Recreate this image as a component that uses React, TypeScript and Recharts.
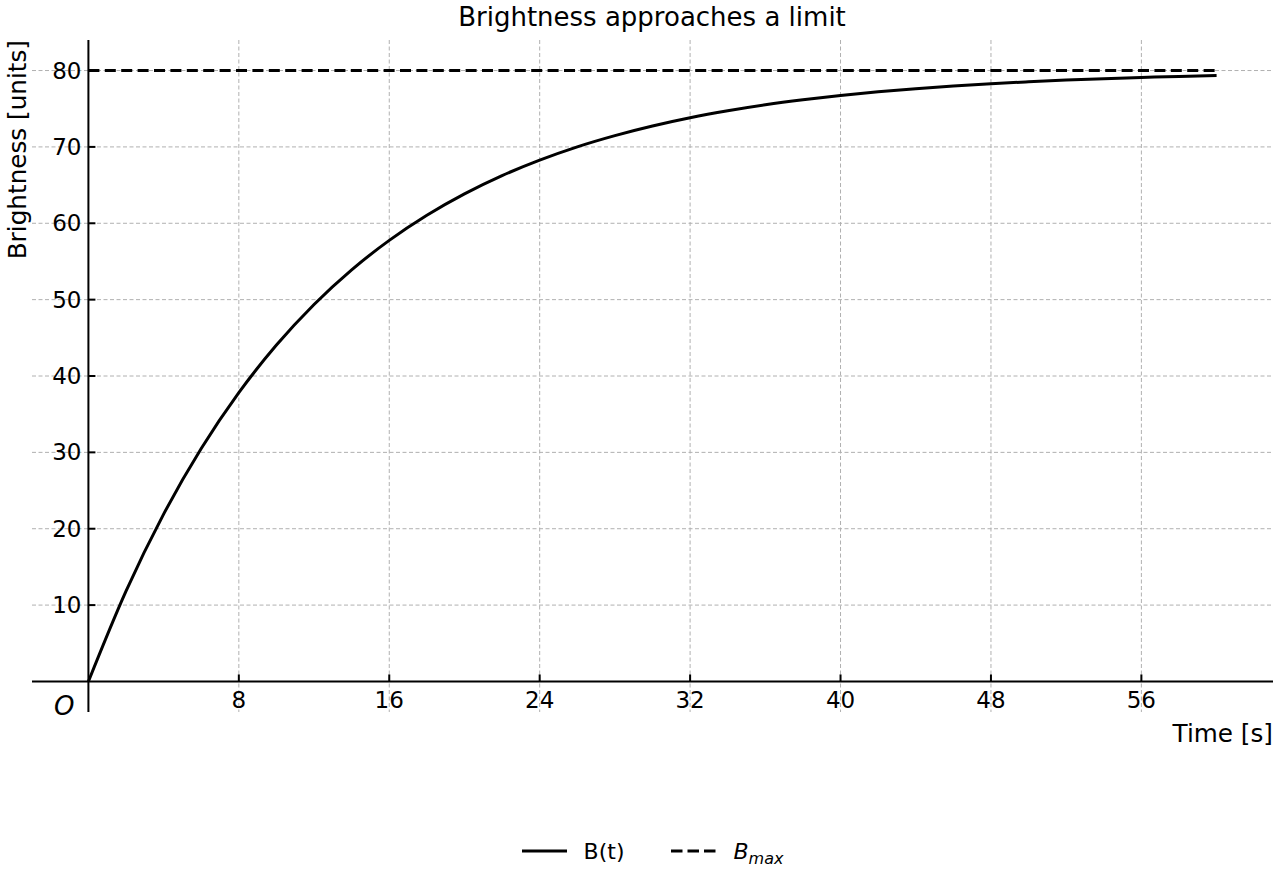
import React from "react";
import {
  ComposedChart,
  Line,
  XAxis,
  YAxis,
  CartesianGrid,
  ReferenceLine,
  ReferenceDot,
  Legend,
} from "recharts";

const FONT = "'DejaVu Sans', sans-serif";

// values, every 2 s
const TIME = [
  0, 2, 4, 6, 8, 10, 12, 14, 16, 18, 20, 22, 24, 26, 28, 30, 32, 34, 36, 38,
  40, 42, 44, 46, 48, 50, 52, 54, 56, 58, 60,
];
const BRIGHTNESS = [
  0, 11.83, 21.91, 30.5, 37.82, 44.05, 49.37, 53.9, 57.76, 61.05, 63.85, 66.24,
  68.27, 70.01, 71.48, 72.74, 73.82, 74.73, 75.51, 76.17, 76.74, 77.22, 77.63,
  77.98, 78.28, 78.53, 78.75, 78.94, 79.09, 79.23, 79.34,
];
const B_MAX = 80;
const B_MAX_SPAN = [0, 60];

const X_TICKS = [8, 16, 24, 32, 40, 48, 56];
const Y_TICKS = [10, 20, 30, 40, 50, 60, 70, 80];

const curveData = TIME.map((t, i) => ({ t, b: BRIGHTNESS[i] }));
const limitData = B_MAX_SPAN.map((t) => ({ t, bmax: B_MAX }));

const xTickShape = (label: number) => (p: any) => (
  <g>
    <line x1={p.cx} y1={p.cy} x2={p.cx} y2={p.cy - 7} stroke="#000" strokeWidth={2} />
    <text
      x={p.cx}
      y={p.cy + 27}
      textAnchor="middle"
      fontFamily={FONT}
      fontSize={23}
      fill="#000"
    >
      {label}
    </text>
  </g>
);

const yTickShape = (label: number) => (p: any) => (
  <g>
    <line x1={p.cx} y1={p.cy} x2={p.cx + 7} y2={p.cy} stroke="#000" strokeWidth={2} />
    <text
      x={p.cx - 7}
      y={p.cy + 8}
      textAnchor="end"
      fontFamily={FONT}
      fontSize={23}
      fill="#000"
    >
      {label}
    </text>
  </g>
);

const originShape = (p: any) => (
  <text
    x={p.cx - 14}
    y={p.cy + 34}
    textAnchor="end"
    fontFamily={FONT}
    fontStyle="italic"
    fontSize={26}
    fill="#000"
  >
    O
  </text>
);

function LegendContent() {
  return (
    <div
      style={{
        display: "flex",
        justifyContent: "center",
        alignItems: "center",
        fontFamily: FONT,
        fontSize: 22,
        color: "#000",
        height: 30,
      }}
    >
      <svg width={45} height={10} style={{ marginRight: 17 }}>
        <line x1={0} y1={5} x2={45} y2={5} stroke="#000" strokeWidth={3} />
      </svg>
      <span style={{ marginRight: 47 }}>B(t)</span>
      <svg width={45} height={10} style={{ marginRight: 17 }}>
        <line
          x1={0}
          y1={5}
          x2={45}
          y2={5}
          stroke="#000"
          strokeWidth={3}
          strokeDasharray="11.5 5"
        />
      </svg>
      <span>
        <i>B</i>
        <i style={{ fontSize: 16, position: "relative", top: 5 }}>max</i>
      </span>
    </div>
  );
}

export default function App() {
  return (
    <div
      style={{
        position: "absolute",
        left: 0,
        top: 0,
        width: 1280,
        height: 880,
        background: "#fff",
      }}
    >
      <ComposedChart
        width={1280}
        height={880}
        margin={{ top: 40, right: 7, bottom: 168, left: 32 }}
      >
        <CartesianGrid
          stroke="#b0b0b0"
          strokeWidth={1}
          strokeDasharray="4 2.5"
          horizontalValues={Y_TICKS}
          verticalValues={X_TICKS}
        />
        <XAxis
          type="number"
          dataKey="t"
          domain={[-3, 63]}
          ticks={X_TICKS}
          allowDataOverflow
          height={0}
          axisLine={false}
          tickLine={false}
          tick={() => null}
        />
        <YAxis
          type="number"
          domain={[-4, 84]}
          ticks={Y_TICKS}
          allowDataOverflow
          width={0}
          axisLine={false}
          tickLine={false}
          tick={() => null}
        />
        <ReferenceLine x={0} stroke="#000" strokeWidth={2} />
        <ReferenceLine y={0} stroke="#000" strokeWidth={2} />
        <Line
          data={limitData}
          dataKey="bmax"
          type="linear"
          stroke="#000"
          strokeWidth={3}
          strokeDasharray="11 5.4"
          dot={false}
          isAnimationActive={false}
        />
        <Line
          data={curveData}
          dataKey="b"
          type="monotone"
          stroke="#000"
          strokeWidth={3}
          dot={false}
          isAnimationActive={false}
        />
        {X_TICKS.map((v) => (
          <ReferenceDot key={"x" + v} x={v} y={0} r={0} shape={xTickShape(v)} />
        ))}
        {Y_TICKS.map((v) => (
          <ReferenceDot key={"y" + v} x={0} y={v} r={0} shape={yTickShape(v)} />
        ))}
        <ReferenceDot x={0} y={0} r={0} shape={originShape} />
        <Legend
          verticalAlign="middle"
          content={LegendContent}
          wrapperStyle={{ position: "absolute", top: 836, left: 32, width: 1241 }}
        />
      </ComposedChart>
      <svg
        width={1280}
        height={880}
        style={{ position: "absolute", left: 0, top: 0, pointerEvents: "none" }}
      >
        <text
          x={652}
          y={26}
          textAnchor="middle"
          fontFamily={FONT}
          fontSize={26}
          fill="#000"
        >
          Brightness approaches a limit
        </text>
        <text
          x={1273}
          y={742}
          textAnchor="end"
          fontFamily={FONT}
          fontSize={24.7}
          fill="#000"
        >
          Time [s]
        </text>
        <text
          transform="translate(26,40) rotate(-90)"
          textAnchor="end"
          fontFamily={FONT}
          fontSize={24.7}
          fill="#000"
        >
          Brightness [units]
        </text>
      </svg>
    </div>
  );
}
